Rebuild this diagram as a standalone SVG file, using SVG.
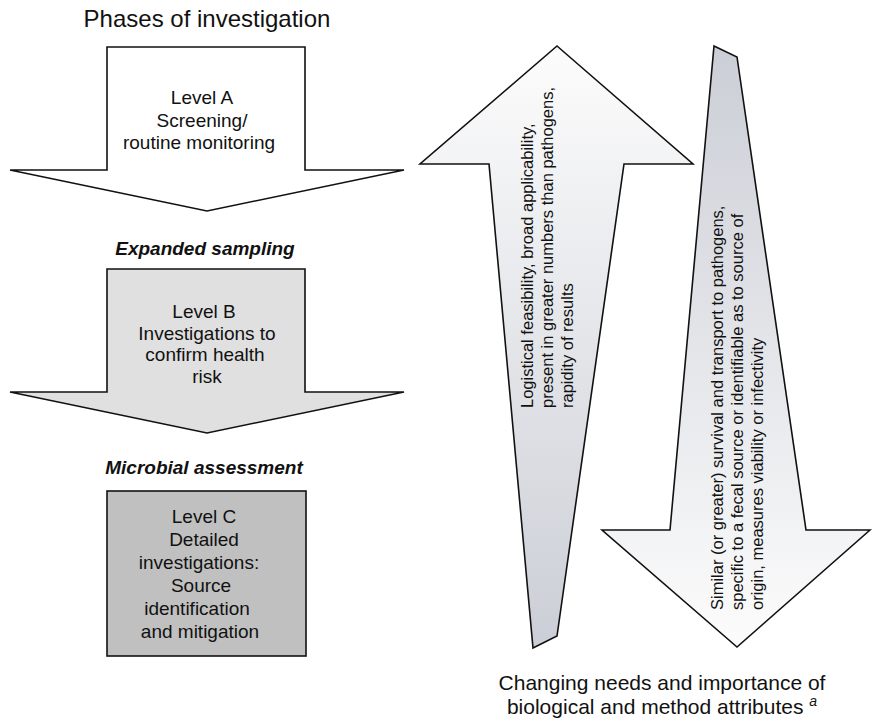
<svg xmlns="http://www.w3.org/2000/svg" width="872" height="723" viewBox="0 0 872 723">
  <defs>
    <style>
      .outline { stroke: #111; stroke-width: 1.6; stroke-linejoin: miter; }
      .txt { font-family: "Liberation Sans", Arial, Helvetica, sans-serif; fill: #111; }
      .big { font-size: 24px; text-anchor: middle; }
      .caption { font-size: 21px; text-anchor: middle; }
      .body { font-size: 19px; text-anchor: middle; }
      .stage { font-size: 19px; font-weight: bold; font-style: italic; text-anchor: middle; }
      .vert { font-size: 16.5px; text-anchor: start; }
    </style>
    <!-- pale at the tip, darker toward the tail -->
    <linearGradient id="upFill" gradientUnits="userSpaceOnUse" x1="0" y1="46" x2="0" y2="648">
      <stop offset="0" stop-color="#fcfcfc"/>
      <stop offset="1" stop-color="#cbced6"/>
    </linearGradient>
    <linearGradient id="downFill" gradientUnits="userSpaceOnUse" x1="0" y1="46" x2="0" y2="647">
      <stop offset="0" stop-color="#cbced6"/>
      <stop offset="1" stop-color="#fcfcfc"/>
    </linearGradient>
  </defs>

  <rect width="872" height="723" fill="#ffffff"/>

  <g id="title">
    <text class="txt big" x="207" y="27">Phases of investigation</text>
  </g>

  <g id="level-a">
    <polygon class="outline" fill="#ffffff" points="107,47 305,47 305,170 404,170 207,211 10,170 107,170"/>
    <text class="txt body" x="202" y="104">Level A</text>
    <text class="txt body" x="202" y="127">Screening/</text>
    <text class="txt body" x="199" y="149">routine monitoring</text>
  </g>

  <g id="stage-expanded">
    <text class="txt stage" x="205" y="255">Expanded sampling</text>
  </g>

  <g id="level-b">
    <polygon class="outline" fill="#e0e0e0" points="107,269 305,269 305,392 404,392 207,433 10,392 107,392"/>
    <text class="txt body" x="204" y="318">Level B</text>
    <text class="txt body" x="207" y="340">Investigations to</text>
    <text class="txt body" x="205" y="361">confirm health</text>
    <text class="txt body" x="207" y="383">risk</text>
  </g>

  <g id="stage-microbial">
    <text class="txt stage" x="204" y="474">Microbial assessment</text>
  </g>

  <g id="level-c">
    <rect class="outline" fill="#c0c0c0" x="107" y="491" width="199" height="165"/>
    <text class="txt body" x="204" y="523">Level C</text>
    <text class="txt body" x="204" y="546">Detailed</text>
    <text class="txt body" x="199" y="569">investigations:</text>
    <text class="txt body" x="201" y="592">Source</text>
    <text class="txt body" x="197" y="615">identification</text>
    <text class="txt body" x="200" y="638">and mitigation</text>
  </g>

  <g id="attributes-up">
    <polygon class="outline" fill="url(#upFill)" points="557,46 693,164 624,164 557,636 533,648 489,164 420,164"/>
    <text class="txt vert" transform="translate(533,408) rotate(-90)">
      <tspan x="0" y="0">Logistical feasibility, broad applicability,</tspan>
      <tspan x="0" y="20">present in greater numbers than pathogens,</tspan>
      <tspan x="0" y="40">rapidity of results</tspan>
    </text>
  </g>

  <g id="attributes-down">
    <polygon class="outline" fill="url(#downFill)" points="714,46 737,57 806,530 870,530 737,647 602,530 670,530"/>
    <text class="txt vert" transform="translate(723,610) rotate(-90)">
      <tspan x="0" y="0">Similar (or greater) survival and transport to pathogens,</tspan>
      <tspan x="0" y="20">specific to a fecal source or identifiable as to source of</tspan>
      <tspan x="0" y="40">origin, measures viability or infectivity</tspan>
    </text>
  </g>

  <g id="caption">
    <text class="txt caption" x="662" y="690">Changing needs and importance of</text>
    <text class="txt caption" x="662" y="714">biological and method attributes <tspan font-size="14" font-style="italic" dy="-8">a</tspan></text>
  </g>
</svg>
